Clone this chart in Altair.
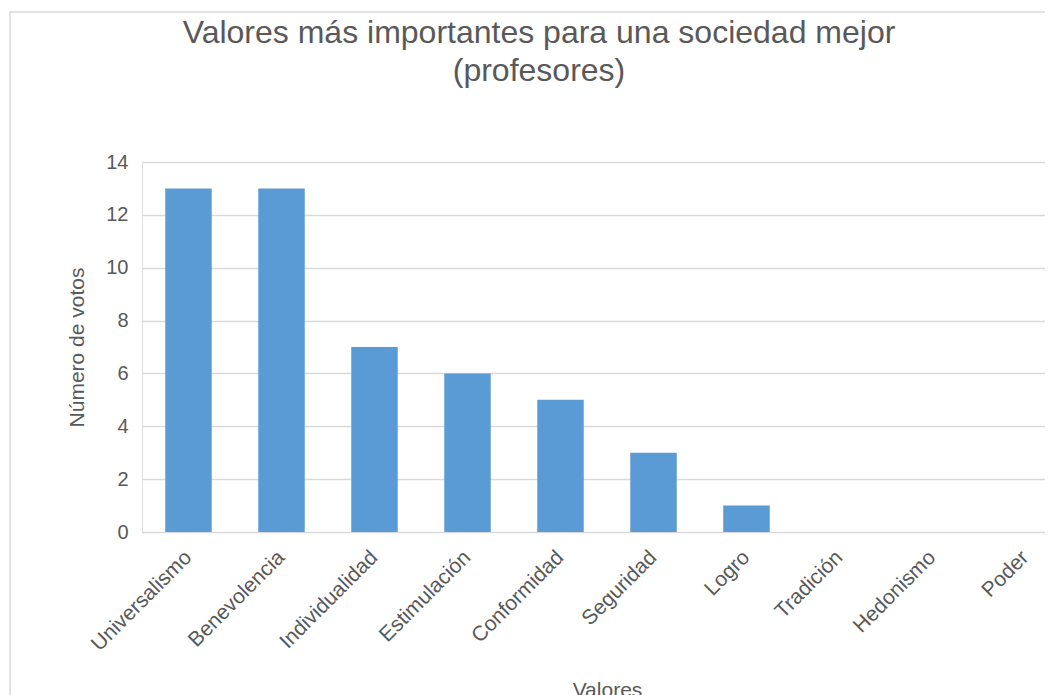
import altair as alt
import pandas as pd

categories = ["Universalismo", "Benevolencia", "Individualidad", "Estimulación",
              "Conformidad", "Seguridad", "Logro", "Tradición", "Hedonismo", "Poder"]
votes = [13, 13, 7, 6, 5, 3, 1, 0, 0, 0]
y_ticks = [0, 2, 4, 6, 8, 10, 12, 14]

df = pd.DataFrame({"valor": categories, "votos": votes})

FONT = "Liberation Sans"
TEXT = "#595959"
W, H = 930, 370

bars = alt.Chart(df).mark_bar(color="#5b9bd5").encode(
    x=alt.X("valor:N", sort=categories, title="Valores",
            scale=alt.Scale(paddingInner=0.5, paddingOuter=0.25),
            axis=alt.Axis(labelAngle=-45, labelAlign="right", labelBaseline="middle",
                          labelPadding=22, ticks=False, domain=False,
                          labelFontSize=21, labelColor=TEXT, labelFont=FONT,
                          titleFontSize=21, titleColor=TEXT, titleFont=FONT,
                          titleFontWeight="normal", titlePadding=25)),
    y=alt.Y("votos:Q", title="Número de votos",
            scale=alt.Scale(domain=[0, 14], nice=False),
            axis=alt.Axis(values=y_ticks, ticks=False, domain=False,
                          gridColor="#d9d9d9", gridWidth=1.5,
                          labelFontSize=20, labelColor=TEXT, labelFont=FONT, labelPadding=14,
                          titleFontSize=21, titleColor=TEXT, titleFont=FONT,
                          titleFontWeight="normal", titlePadding=18)),
)

frame = alt.Chart(alt.Data(values=[{}])).mark_rect(
    fill=None, stroke="#d9d9d9", strokeWidth=1.5, clip=False
).encode(
    x=alt.value(-132), x2=alt.value(W + 60),
    y=alt.value(-150), y2=alt.value(H + 200),
)

chart = alt.layer(frame, bars).properties(
    width=W, height=H,
    title=alt.TitleParams(
        text=["Valores más importantes para una sociedad mejor", "(profesores)"],
        anchor="middle", dx=-68, offset=-77, fontSize=32, font=FONT,
        fontWeight="normal", color=TEXT, lineHeight=38,
    ),
    autosize=alt.AutoSizeParams(type="none"),
    padding={"left": 134, "top": 154, "right": -27, "bottom": 166},
).configure_view(stroke=None).configure(background="white")

chart.save("out.html", embed_options={"renderer": "svg", "actions": False})
